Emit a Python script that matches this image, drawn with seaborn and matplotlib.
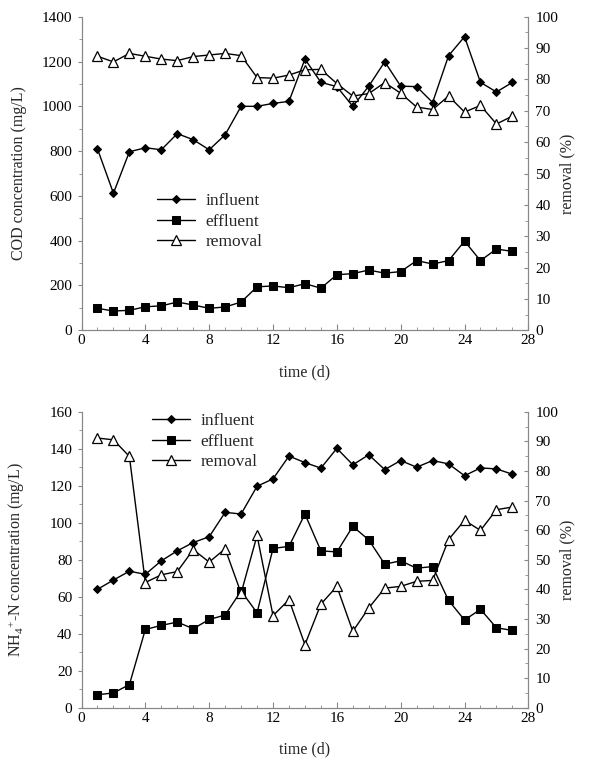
import numpy as np
import pandas as pd
import seaborn as sns
import matplotlib.pyplot as plt
from matplotlib.ticker import MultipleLocator

days = list(range(1, 28))

# COD (mg/L) and removal (%)
cod_influent = [810, 612, 797, 815, 806, 878, 851, 806, 873, 1000, 1000, 1013, 1022, 1211,
                1107, 1088, 1000, 1090, 1199, 1090, 1088, 1017, 1226, 1311, 1107, 1064, 1107]
cod_effluent = [98, 86, 89, 105, 109, 126, 113, 98, 104, 126, 194, 198, 190, 208,
                188, 248, 253, 269, 255, 262, 311, 296, 311, 398, 311, 363, 352]
cod_removal = [87.4, 85.6, 88.3, 87.4, 86.5, 86.0, 87.3, 87.8, 88.3, 87.6, 80.6, 80.4, 81.4, 83.1,
               83.2, 78.7, 74.7, 75.5, 79.0, 75.6, 71.2, 70.4, 74.7, 69.6, 71.7, 65.8, 68.3]

# NH4+-N (mg/L) and removal (%)
nh4_influent = [64, 69, 73.8, 72.1, 79.4, 84.8, 89.3, 92.4, 105.6, 104.7, 119.7, 123.7, 136, 132.5,
                129.5, 140.2, 131.3, 136.7, 128.7, 133.6, 130, 133.6, 131.8, 125.4, 129.6, 129.1, 126.2]
nh4_effluent = [7, 8, 12.5, 42.3, 44.5, 46.3, 42.7, 47.7, 50.1, 63.1, 51.3, 86.1, 87.2, 104.7,
                84.8, 84.2, 98, 90.7, 77.6, 79.4, 75.4, 76.3, 58, 47.4, 53.2, 43.2, 41.8]
nh4_removal = [91.1, 90.5, 84.9, 42.3, 44.9, 46.0, 53.4, 49.2, 53.7, 38.7, 58.2, 31.1, 36.5, 21.3,
               35.0, 41.0, 25.8, 33.7, 40.4, 41.0, 42.7, 43.0, 56.8, 63.3, 59.9, 66.9, 67.8]

sns.set_style("ticks")
plt.rcParams['font.family'] = ['Liberation Serif', 'DejaVu Serif']
plt.rcParams['mathtext.fontset'] = 'custom'
plt.rcParams['mathtext.rm'] = 'Liberation Serif'
plt.rcParams['mathtext.it'] = 'Liberation Serif:italic'
plt.rcParams['font.size'] = 11

fig = plt.figure(figsize=(5.95, 7.61), dpi=100)
ax1 = fig.add_axes([0.137, 0.566, 0.751, 0.412])
ax2 = fig.add_axes([0.137, 0.070, 0.751, 0.389])


def panel(ax, infl, effl, remo, ymax, ystep, yminor, ylabel, leg_anchor, xlab_y):
    df = pd.DataFrame({"day": days, "influent": infl, "effluent": effl, "removal": remo})
    sns.lineplot(data=df, x="day", y="influent", ax=ax, color="black", lw=1,
                 marker="D", markersize=4.5, markeredgecolor="black", label="influent")
    sns.lineplot(data=df, x="day", y="effluent", ax=ax, color="black", lw=1,
                 marker="s", markersize=6, markeredgecolor="black", label="effluent")
    axr = ax.twinx()
    sns.lineplot(data=df, x="day", y="removal", ax=axr, color="black", lw=1,
                 marker="^", markersize=7, markerfacecolor="white",
                 markeredgecolor="black", markeredgewidth=0.9, label="removal")

    ax.set_xlim(0, 28)
    ax.set_ylim(0, ymax)
    axr.set_ylim(0, 100)
    ax.xaxis.set_major_locator(MultipleLocator(4))
    ax.xaxis.set_minor_locator(MultipleLocator(1))
    ax.yaxis.set_major_locator(MultipleLocator(ystep))
    ax.yaxis.set_minor_locator(MultipleLocator(yminor))
    axr.yaxis.set_major_locator(MultipleLocator(10))
    axr.yaxis.set_minor_locator(MultipleLocator(5))

    for a in (ax, axr):
        a.spines["top"].set_visible(False)
        for s in a.spines.values():
            s.set_color("#888888")
            s.set_linewidth(0.8)
        a.tick_params(which="both", colors="#888888", labelcolor="black", labelsize=11)
    ax.tick_params(axis="x", which="both", direction="in", pad=3)
    ax.tick_params(axis="x", which="major", length=4)
    ax.tick_params(axis="x", which="minor", length=2.5)
    ax.tick_params(axis="y", which="major", direction="out", length=3)
    ax.tick_params(axis="y", which="minor", direction="out", length=2)
    axr.tick_params(axis="y", which="major", direction="in", length=3, pad=5)
    axr.tick_params(axis="y", which="minor", direction="in", length=2)

    ax.set_xlabel("time (d)", fontsize=11.5)
    ax.set_ylabel(ylabel, fontsize=11.5)
    axr.set_ylabel("removal (%)", fontsize=11.5)
    ax.xaxis.set_label_coords(0.5, xlab_y)
    ax.yaxis.set_label_coords(-0.122, 0.5)
    axr.yaxis.set_label_coords(1.07, 0.5)

    h1, l1 = ax.get_legend_handles_labels()
    h2, l2 = axr.get_legend_handles_labels()
    ax.get_legend().remove() if ax.get_legend() else None
    axr.get_legend().remove() if axr.get_legend() else None
    axr.legend(h1 + h2, l1 + l2, loc="upper left", bbox_to_anchor=leg_anchor,
               frameon=False, fontsize=12.5, handlelength=2.2, handletextpad=0.6,
               labelspacing=0.25, borderpad=0, borderaxespad=0)


panel(ax1, cod_influent, cod_effluent, cod_removal, 1400, 200, 100,
      "COD concentration (mg/L)", (0.168, 0.438), -0.11)
panel(ax2, nh4_influent, nh4_effluent, nh4_removal, 160, 20, 10,
      r"NH$_4$$^{+}$-N concentration (mg/L)", (0.158, 0.995), -0.115)

fig.savefig("out.png", dpi=100)
